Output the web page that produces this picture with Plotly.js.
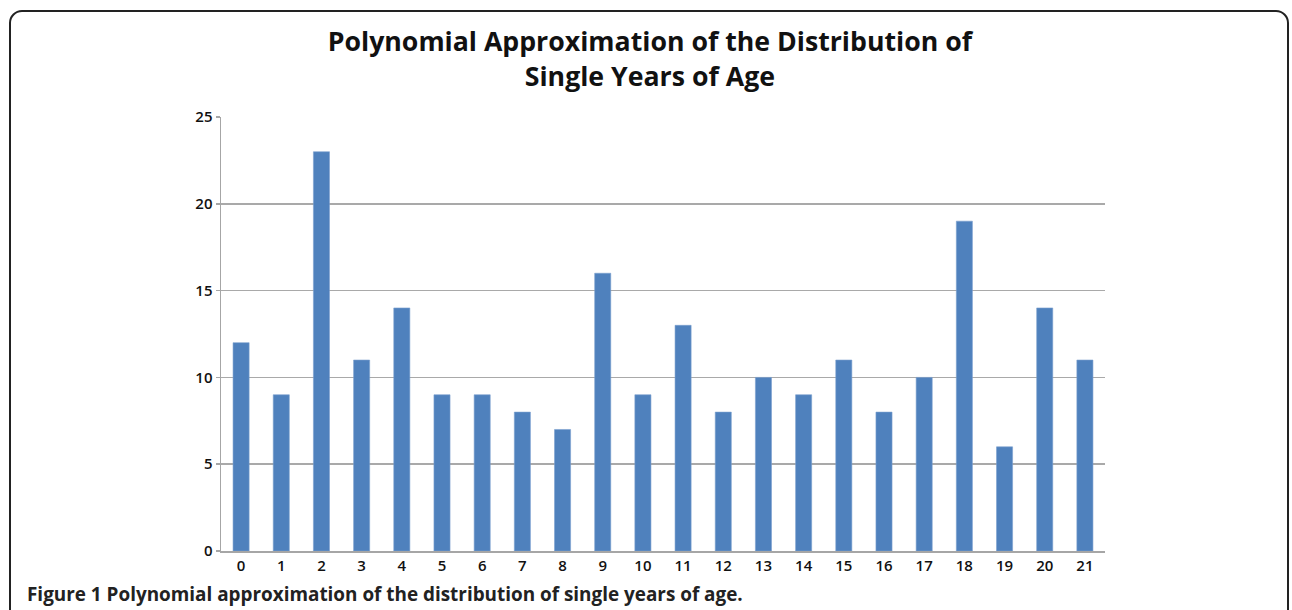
<!DOCTYPE html>
<html>
<head>
<meta charset="utf-8">
<script src="https://cdn.plot.ly/plotly-3.0.1.min.js"></script>
<style>
  html, body { margin: 0; padding: 0; background: #fff; overflow: hidden; }
  #frame { position: absolute; left: 9px; top: 10px; width: 1280px; height: 640px;
           border: 2px solid #222; border-radius: 13px; box-sizing: border-box; }
  #chart { position: absolute; left: 0; top: 0; width: 1292px; height: 610px; }
</style>
</head>
<body>
<div id="frame"></div>
<div id="chart"></div>
<script>
const ages = ["0","1","2","3","4","5","6","7","8","9","10","11","12","13","14","15","16","17","18","19","20","21"];
const counts = [12, 9, 23, 11, 14, 9, 9, 8, 7, 16, 9, 13, 8, 10, 9, 11, 8, 10, 19, 6, 14, 11];
const yTicks = [0, 5, 10, 15, 20, 25];
const chartTitle = "Polynomial Approximation of the Distribution of<br>Single Years of Age";
const captionBold = "Figure 1";
const captionText = "Polynomial approximation of the distribution of single years of age.";

const trace = {
  type: 'bar',
  x: ages,
  y: counts,
  marker: { color: '#4f81bd', line: { color: '#7ba0cf', width: 0.6 } },
  hoverinfo: 'x+y'
};

const layout = {
  width: 1292, height: 610,
  margin: { l: 221, r: 187, t: 117, b: 59, pad: 0 },
  paper_bgcolor: 'rgba(0,0,0,0)',
  plot_bgcolor: 'rgba(0,0,0,0)',
  bargap: 0.6,
  showlegend: false,
  title: {
    text: chartTitle,
    font: { family: 'Open Sans, sans-serif', size: 26.7, color: '#111', weight: 700 },
    x: 0.503, xanchor: 'center', y: 0.916, yanchor: 'middle'
  },
  xaxis: {
    type: 'category',
    showgrid: false,
    showline: true, linecolor: '#a6a6a6', linewidth: 1.5,
    ticks: '', ticklen: 0,
    tickfont: { family: 'Open Sans, sans-serif', size: 15, color: '#111', weight: 600 },
    fixedrange: true
  },
  yaxis: {
    range: [0, 25],
    tickvals: yTicks,
    showgrid: true, gridcolor: '#a9a9a9', gridwidth: 1.5,
    showline: true, linecolor: '#a6a6a6', linewidth: 1.5,
    zeroline: false,
    ticks: 'outside', ticklen: 4, tickcolor: '#a6a6a6', tickwidth: 1.5,
    tickfont: { family: 'Open Sans, sans-serif', size: 15, color: '#111', weight: 600 },
    fixedrange: true
  },
  annotations: [{
    xref: 'paper', yref: 'paper',
    x: -0.2215, y: -0.098, xanchor: 'left', yanchor: 'middle',
    showarrow: false,
    text: '<b>' + captionBold + '</b> <b>' + captionText + '</b>',
    font: { family: 'Open Sans, sans-serif', size: 18.9, color: '#222' }
  }]
};

Plotly.newPlot('chart', [trace], layout, { displayModeBar: false, staticPlot: true });
</script>
</body>
</html>
